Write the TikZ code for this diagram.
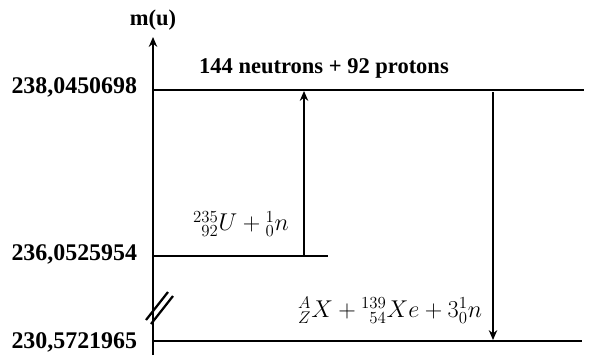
\documentclass[tikz,border=0pt]{standalone}
\usepackage{fontspec}
\setmainfont{Liberation Serif}
\usetikzlibrary{arrows.meta, positioning}

\tikzset{
    level/.style={line width=2pt},
    axisline/.style={line width=2pt},
    trans/.style={line width=1.3pt},
    val/.style={anchor=east, font=\fontsize{17}{19}\selectfont\bfseries},
    eq/.style={font=\fontsize{17}{19}\selectfont}
}

\begin{document}
\begin{tikzpicture}[x=0.025cm, y=-0.025cm, >={Stealth[length=7pt, width=6pt]}]
    \useasboundingbox (0,0) rectangle (590,356);

    % Axis
    \coordinate (O) at (153,355);
    \coordinate (T) at (153,37);
    \draw[axisline, ->] (O) -- (T);
    \node (mu) [above=1pt of T, font=\fontsize{16}{18}\selectfont\bfseries] {m(u)};

    % Axis break
    \coordinate (b1) at (146,320);
    \coordinate (b2) at (168,292);
    \coordinate (b3) at (151,324);
    \coordinate (b4) at (173,296);
    \draw[line width=1.6pt] (b1) -- (b2);
    \draw[line width=1.6pt] (b3) -- (b4);

    % Levels
    \coordinate (L1a) at (153,90);
    \coordinate (L1b) at (584,90);
    \coordinate (L2a) at (153,256);
    \coordinate (L2b) at (328,256);
    \coordinate (L3a) at (153,341);
    \coordinate (L3b) at (582,341);
    \draw[level] (L1a) -- (L1b);
    \draw[level] (L2a) -- (L2b);
    \draw[level] (L3a) -- (L3b);

    % Mass values
    \node[val] (m1) at (142,87) {238,0450698};
    \node[val] (m2) at (142,254) {236,0525954};
    \node[val] (m3) at (142,342) {230,5721965};

    % Level labels
    \node (nucl) at (324,68) [font=\fontsize{16}{18}\selectfont\bfseries] {144 neutrons + 92 protons};
    \node[eq] (react) at (241,224) {$^{235}_{\phantom{2}92}U + {}^{1}_{0}n$};
    \node[eq] (prod) at (390,310) {${}^{A}_{Z}X + {}^{139}_{\phantom{1}54}Xe + 3{}^{1}_{0}n$};

    % Transitions
    \coordinate (u1) at (304,256);
    \coordinate (u2) at (304,91);
    \coordinate (d1) at (493,92);
    \coordinate (d2) at (493,340);
    \draw[trans, ->] (u1) -- (u2);
    \draw[trans, ->] (d1) -- (d2);
\end{tikzpicture}
\end{document}
